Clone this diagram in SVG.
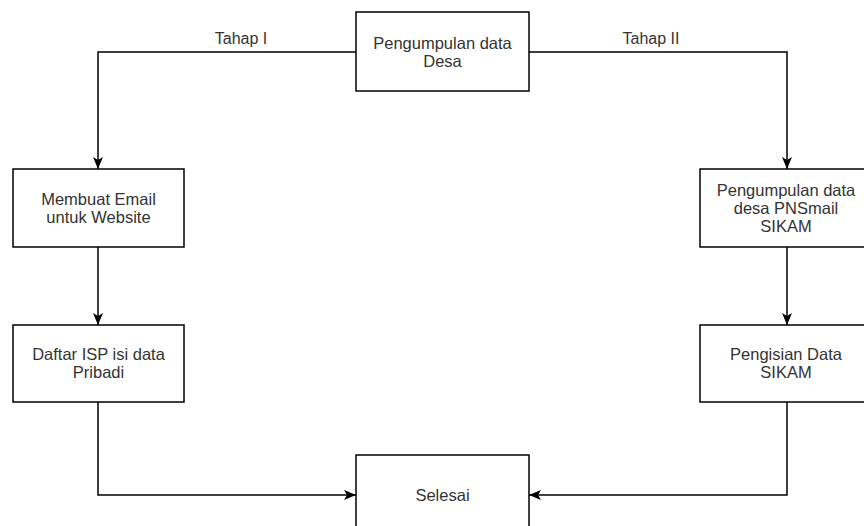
<svg xmlns="http://www.w3.org/2000/svg" width="864" height="526" viewBox="0 0 864 526">
<style>
.box{fill:#ffffff;stroke:#000000;stroke-width:1.5}
.t{font-family:"Liberation Sans",Arial,Helvetica,sans-serif;font-size:16.5px;fill:#333333;text-anchor:middle}
.lbl{font-family:"Liberation Sans",Arial,Helvetica,sans-serif;font-size:16px;fill:#333333;text-anchor:middle}
.edge{fill:none;stroke:#000000;stroke-width:1.5}
</style>
<defs>
<marker id="arr" viewBox="0 0 12 10" refX="12" refY="5" markerWidth="12" markerHeight="11" orient="auto" markerUnits="userSpaceOnUse">
<path d="M0,0 L12,5 L0,10 L3,5 z" fill="#000000"/>
</marker>
</defs>
<rect width="864" height="526" fill="#ffffff"/>
<g id="connectors">
<path class="edge" d="M356,52 H98 V169" marker-end="url(#arr)"/>
<path class="edge" d="M529,52 H787 V169" marker-end="url(#arr)"/>
<path class="edge" d="M98,247 V325" marker-end="url(#arr)"/>
<path class="edge" d="M787,247 V325" marker-end="url(#arr)"/>
<path class="edge" d="M98,402 V495 H356" marker-end="url(#arr)"/>
<path class="edge" d="M787,402 V495 H529" marker-end="url(#arr)"/>
<text class="lbl" x="241" y="44">Tahap I</text>
<text class="lbl" x="651" y="44">Tahap II</text>
</g>
<g id="n-start">
<rect class="box" x="356" y="12" width="173" height="79"/>
<text class="t" x="442.5" y="48.5">Pengumpulan data</text>
<text class="t" x="442.5" y="66.5">Desa</text>
</g>
<g id="n-email">
<rect class="box" x="13" y="169" width="171" height="78"/>
<text class="t" x="98.5" y="204.5">Membuat Email</text>
<text class="t" x="98.5" y="222.5">untuk Website</text>
</g>
<g id="n-isp">
<rect class="box" x="13" y="325" width="171" height="77"/>
<text class="t" x="98.5" y="360">Daftar ISP isi data</text>
<text class="t" x="98.5" y="378">Pribadi</text>
</g>
<g id="n-pnsmail">
<rect class="box" x="700" y="169" width="172" height="78"/>
<text class="t" x="786" y="196">Pengumpulan data</text>
<text class="t" x="786" y="214">desa PNSmail</text>
<text class="t" x="786" y="232">SIKAM</text>
</g>
<g id="n-sikam">
<rect class="box" x="700" y="325" width="172" height="77"/>
<text class="t" x="786" y="359.5">Pengisian Data</text>
<text class="t" x="786" y="377.5">SIKAM</text>
</g>
<g id="n-selesai">
<rect class="box" x="356" y="455" width="173" height="80"/>
<text class="t" x="442.5" y="501">Selesai</text>
</g>
</svg>
